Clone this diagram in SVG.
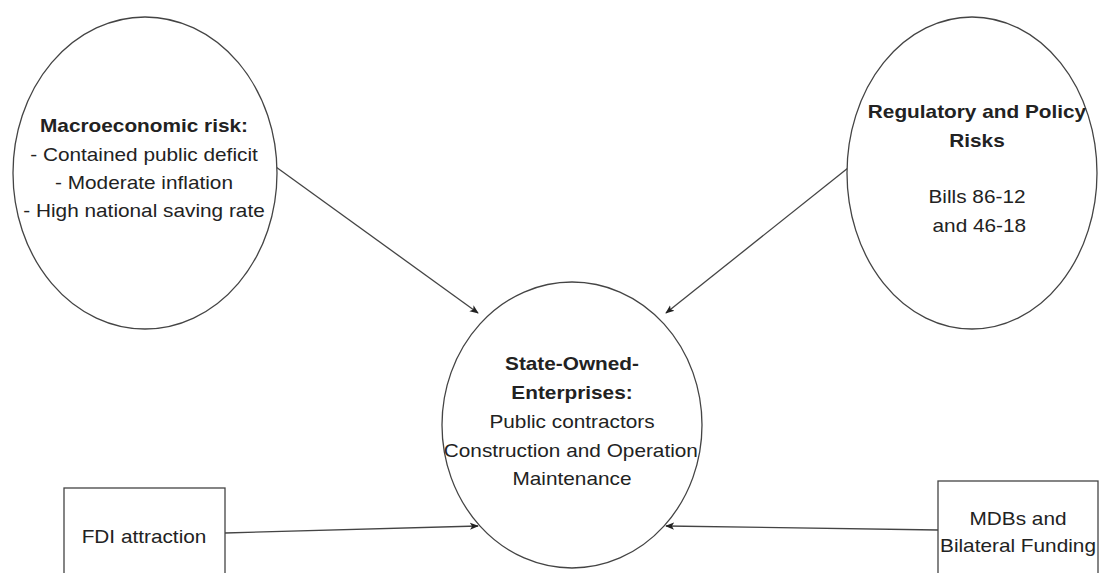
<svg xmlns="http://www.w3.org/2000/svg" width="1099" height="573" viewBox="0 0 1099 573">
<style>
.shape{fill:#fff;stroke:#444;stroke-width:1.3}
.conn{fill:none;stroke:#444;stroke-width:1.3;marker-end:url(#ah)}
text{font-family:"Liberation Sans",Arial,sans-serif;font-size:18px;fill:#222;text-anchor:middle}
.b{font-weight:bold}
</style>
<defs>
<marker id="ah" viewBox="0 0 10 10" refX="9" refY="5" markerWidth="9" markerHeight="9" markerUnits="userSpaceOnUse" orient="auto">
<path d="M0,1 L10,5 L0,9 L2.5,5 Z" fill="#222"/>
</marker>
</defs>
<rect width="1099" height="573" fill="#fff"/>
<g id="connectors">
<line class="conn" x1="276" y1="167" x2="478" y2="313"/>
<line class="conn" x1="848" y1="168" x2="666" y2="313"/>
<line class="conn" x1="225" y1="533" x2="478" y2="526"/>
<line class="conn" x1="938" y1="530" x2="666" y2="526"/>
</g>
<g id="macro">
<ellipse class="shape" cx="145" cy="173" rx="132" ry="156"/>
<g transform="translate(144 0) scale(1.155 1)">
<text class="b" x="0" y="132">Macroeconomic risk:</text>
<text x="0" y="161">- Contained public deficit</text>
<text x="0" y="189">- Moderate inflation</text>
<text x="0" y="217">- High national saving rate</text>
</g>
</g>
<g id="regulatory">
<ellipse class="shape" cx="972" cy="173" rx="125" ry="156"/>
<g transform="translate(977 0) scale(1.155 1)">
<text class="b" x="0" y="118">Regulatory and Policy</text>
<text class="b" x="0" y="147">Risks</text>
<text x="0" y="203">Bills 86-12</text>
<text x="2" y="232">and 46-18</text>
</g>
</g>
<g id="soe">
<ellipse class="shape" cx="572" cy="425" rx="130" ry="143"/>
<g transform="translate(572 0) scale(1.155 1)">
<text class="b" x="0" y="370">State-Owned-</text>
<text class="b" x="0" y="399">Enterprises:</text>
<text x="0" y="428">Public contractors</text>
<text x="-1" y="457">Construction and Operation</text>
<text x="0" y="485">Maintenance</text>
</g>
</g>
<g id="fdi">
<rect class="shape" x="64" y="488" width="161" height="100"/>
<g transform="translate(144 0) scale(1.155 1)">
<text x="0" y="543">FDI attraction</text>
</g>
</g>
<g id="mdb">
<rect class="shape" x="938" y="481" width="160" height="100"/>
<g transform="translate(1018 0) scale(1.155 1)">
<text x="0" y="525">MDBs and</text>
<text x="0" y="552">Bilateral Funding</text>
</g>
</g>
</svg>
